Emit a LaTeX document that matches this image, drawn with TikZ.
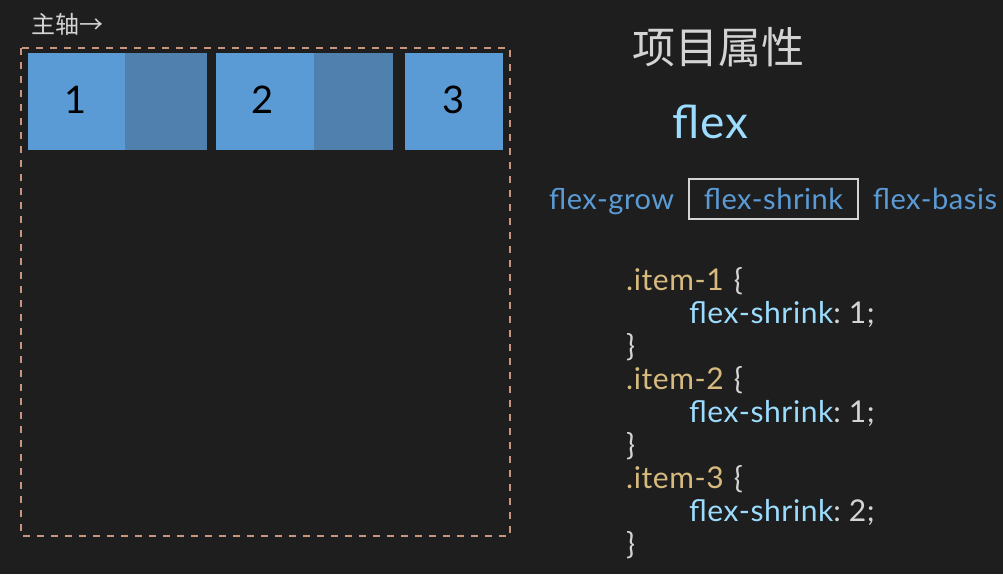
\documentclass[tikz,border=0pt]{standalone}
\usepackage{fontspec}
\setmainfont{Lato}[LetterSpace=2]
\newfontfamily\cjk{Noto Sans CJK SC}
\usetikzlibrary{positioning}
\definecolor{bgdark}{HTML}{1E1E1E}
\definecolor{itemlight}{HTML}{5B9BD5}
\definecolor{itemdark}{HTML}{4F80AE}
\definecolor{mainaxis}{HTML}{C8967E}
\definecolor{plaintext}{HTML}{D4D4D4}
\definecolor{propblue}{HTML}{9CDCFE}
\definecolor{tabblue}{HTML}{5B9BD5}
\definecolor{selector}{HTML}{D7BA7D}
\tikzset{
  label text/.style={inner sep=0pt, text=plaintext},
  tab/.style={inner sep=0pt, text=tabblue, font=\fontsize{29}{29}\selectfont},
  code/.style={inner sep=0pt, anchor=base west, text=plaintext, font=\fontsize{30}{30}\selectfont},
  num/.style={inner sep=0pt, text=black, font=\fontsize{38}{38}\selectfont}
}
\begin{document}
\begin{tikzpicture}[x=1pt,y=-1pt]
		%%%%% START %%%%%
		
		\fill[bgdark] (0, 0) rectangle (1003, 574);
		\useasboundingbox (0, 0) rectangle (1003, 574);
		
		\node[label text, anchor=west, font=\cjk\fontsize{24}{24}\selectfont] (axis) at (31, 24) {主轴→};
		\draw[line width=1.3pt, color=mainaxis, dash pattern=on 7pt off 7pt] (21, 48) rectangle (510, 536);
		
		\fill[itemlight] (28, 53) rectangle (125, 150);
		\fill[itemdark] (125, 53) rectangle (207, 150);
		\fill[itemlight] (216, 53) rectangle (314, 150);
		\fill[itemdark] (314, 53) rectangle (393, 150);
		\fill[itemlight] (405, 53) rectangle (503, 150);
		
		\node[num] (one) at (76, 100) {1};
		\node[num] (two) at (263, 100) {2};
		\node[num] (three) at (454, 100) {3};
		
		\node[label text, font=\cjk\fontsize{43}{43}\selectfont] (title) at (718, 47) {项目属性};
		\node[inner sep=0pt, anchor=base, text=propblue, font=\fontsize{46}{46}\selectfont] (flex) at (710, 138) {flex};
		
		\node[tab, draw=plaintext, line width=1.3pt, minimum width=169pt, minimum height=40pt] (shrink) at (773.5, 199) {flex-shrink};
		\node[tab, anchor=base east] (grow) at ([xshift=-14pt]shrink.base west) {flex-grow};
		\node[tab, anchor=base west] (basis) at ([xshift=14pt]shrink.base east) {flex-basis};
		
		\node[code] (sel1) at (626, 290) {\color{selector}.item-1\hspace{10pt}\color{plaintext}\{};
		\node[code] (prop1) at (689, 323) {\color{propblue}flex-shrink\color{plaintext}:\hspace{8pt}1;};
		\node[code] (end1) at (626, 356) {\}};
		\node[code] (sel2) at (626, 389) {\color{selector}.item-2\hspace{10pt}\color{plaintext}\{};
		\node[code] (prop2) at (689, 422) {\color{propblue}flex-shrink\color{plaintext}:\hspace{8pt}1;};
		\node[code] (end2) at (626, 455) {\}};
		\node[code] (sel3) at (626, 488) {\color{selector}.item-3\hspace{10pt}\color{plaintext}\{};
		\node[code] (prop3) at (689, 521) {\color{propblue}flex-shrink\color{plaintext}:\hspace{8pt}2;};
		\node[code] (end3) at (626, 554) {\}};
		
		%%%%% END %%%%%
	\end{tikzpicture}
\end{document}
